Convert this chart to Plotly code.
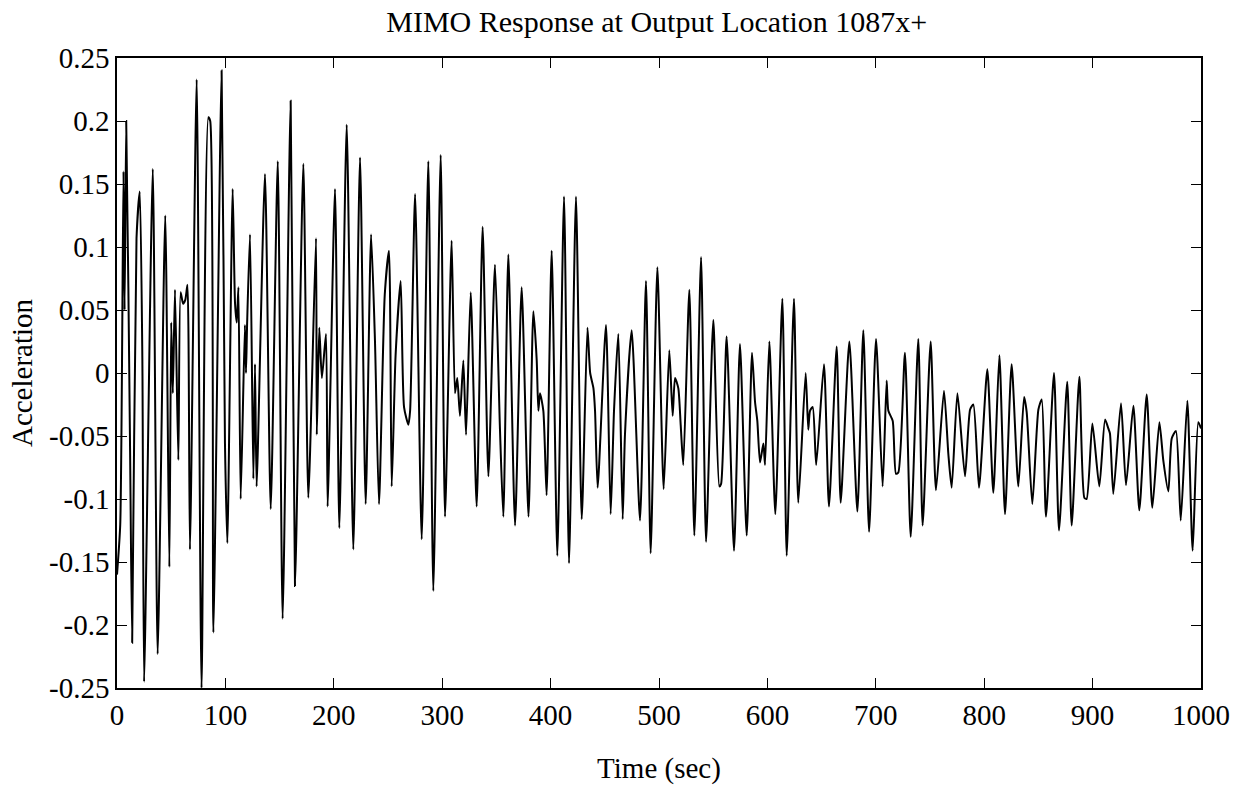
import plotly.graph_objects as go

time_sec = [
    0, 3, 6, 7, 8.5, 12, 14, 18, 21, 23.4, 25, 33, 37.5, 44.5, 48.3, 50, 51.5, 53.5, 56.6, 58.7,
    61, 63, 65, 67.3, 73.5, 78, 84.3, 86, 88.9, 96.5, 99.6, 101.8, 106.7, 108.9, 110.5, 112, 114.1,
    118, 119, 120, 122.7, 125.8, 127.3, 128.8, 136.5, 141.8, 148.3, 152.8, 160.2, 164.2, 171.9,
    176.5, 183.6, 184.3, 186.6, 189, 192.8, 194.3, 201.1, 205.1, 211.9, 218, 224.2, 229.4, 234.4,
    238, 241.7, 247, 250.9, 253.4, 257, 261.7, 264.8, 268.8, 270.4, 275, 281.1, 287.2, 291.8,
    298.6, 302.6, 308.7, 311.8, 313.9, 316.4, 319.5, 322, 326.3, 331.8, 337.3, 342.6, 348.7,
    353.3, 356.4, 361, 367.2, 373.3, 379.6, 384.1, 387.2, 388.7, 390.2, 393.3, 396.3, 401, 406.2,
    412.4, 417, 423.4, 428.7, 434, 436.5, 439.5, 441, 443.4, 451.1, 455.4, 458.5, 462.5, 466.5,
    468.6, 474.8, 482.5, 488, 492.3, 498.5, 504.3, 509.5, 512.6, 514.8, 517.8, 520, 522.4, 528,
    532.6, 538.8, 543.4, 550.1, 555.7, 557.3, 562.4, 569.2, 574.7, 580.9, 585.8, 588.6, 590.7,
    593.2, 596.3, 597.8, 601.8, 607.3, 613.8, 617.8, 624.5, 628.5, 635.3, 637.7, 639.3, 641.8,
    645, 652.2, 656.8, 663.9, 667.6, 675.6, 683, 688.5, 693.8, 700.2, 706.3, 710, 711.6, 715.6,
    718.6, 720.8, 726.9, 732.2, 739.2, 743.2, 750.6, 755.5, 762.9, 766.9, 770, 775.3, 782.3, 787,
    790, 795.2, 802.9, 808.4, 814, 819.2, 825.3, 831.5, 836.8, 839.2, 844.4, 850, 853.1, 857,
    864.4, 869, 876.6, 880.7, 887.8, 892.4, 894.5, 899.8, 906.2, 911.5, 914.5, 916, 919.1, 926.2,
    930.8, 937.6, 943.1, 949.9, 955.1, 961.6, 965.3, 969.9, 973, 976.9, 981.3, 987.4, 992.3,
    997.5, 1000,
]

acceleration = [
    -0.16, -0.12, 0.16, 0.05, 0.20, -0.056, -0.214, 0.107, 0.144, 0.01, -0.245, 0.162, -0.223,
    0.125, -0.154, 0.04, -0.016, 0.066, -0.069, 0.064, 0.055, 0.058, 0.07, -0.14, 0.233, -0.25,
    0.203, 0.20, -0.206, 0.24, -0.056, -0.135, 0.146, 0.055, 0.04, 0.068, -0.10, 0.038, 0.0,
    0.038, 0.11, -0.084, 0.007, -0.09, 0.158, -0.108, 0.168, -0.195, 0.216, -0.169, 0.166,
    -0.099, 0.107, -0.049, 0.036, -0.004, 0.031, -0.106, 0.146, -0.123, 0.197, -0.14, 0.171,
    -0.104, 0.11, 0.025, -0.104, 0.062, 0.097, -0.09, 0.014, 0.073, -0.027, -0.041, -0.03,
    0.142, -0.132, 0.168, -0.173, 0.173, -0.114, 0.105, -0.016, -0.004, -0.034, 0.01, -0.049,
    0.064, -0.106, 0.116, -0.082, 0.086, -0.045, -0.114, 0.094, -0.121, 0.068, -0.114, 0.049,
    0.01, -0.03, -0.016, -0.03, -0.097, 0.097, -0.145, 0.14, -0.151, 0.14, -0.116, 0.036, 0.0,
    -0.012, -0.03, -0.091, 0.038, -0.112, -0.03, 0.031, -0.116, -0.049, 0.034, -0.117, 0.073,
    -0.143, 0.084, -0.092, 0.018, -0.034, -0.004, -0.012, -0.041, -0.073, 0.066, -0.129, 0.092,
    -0.134, 0.042, -0.09, -0.088, 0.029, -0.141, 0.023, -0.129, 0.016, -0.023, -0.038, -0.071,
    -0.056, -0.073, 0.025, -0.112, 0.059, -0.145, 0.059, -0.103, 0.0, -0.045, -0.03, -0.027,
    -0.073, 0.007, -0.106, 0.021, -0.103, 0.025, -0.11, 0.034, -0.126, 0.027, -0.09, -0.006,
    -0.03, -0.038, -0.08, -0.079, 0.016, -0.13, 0.027, -0.121, 0.025, -0.093, -0.014, -0.064,
    -0.091, -0.016, -0.082, -0.029, -0.025, -0.091, 0.003, -0.095, 0.014, -0.112, 0.007, -0.09,
    -0.019, -0.031, -0.104, -0.029, -0.021, -0.114, 0.0, -0.125, -0.007, -0.121, -0.003, -0.099,
    -0.1, -0.04, -0.09, -0.037, -0.044, -0.048, -0.096, -0.024, -0.089, -0.026, -0.109, -0.017,
    -0.107, -0.039, -0.07, -0.094, -0.052, -0.046, -0.117, -0.022, -0.141, -0.039, -0.044,
]

x_ticks = [0, 100, 200, 300, 400, 500, 600, 700, 800, 900, 1000]
y_ticks = [0.25, 0.2, 0.15, 0.1, 0.05, 0, -0.05, -0.1, -0.15, -0.2, -0.25]
y_tick_labels = ["0.25", "0.2", "0.15", "0.1", "0.05", "0", "-0.05", "-0.1", "-0.15", "-0.2", "-0.25"]

font_family = "Liberation Serif, Times New Roman, serif"

fig = go.Figure()
fig.add_trace(go.Scatter(
    x=time_sec, y=acceleration, mode="lines",
    line=dict(color="black", width=2, shape="spline", smoothing=0.6),
    showlegend=False,
))

fig.update_layout(
    width=1251, height=793,
    margin=dict(l=117, r=50, t=58, b=105),
    paper_bgcolor="white", plot_bgcolor="white",
    font=dict(family=font_family, size=29, color="black"),
    title=dict(text="MIMO Response at Output Location 1087x+", x=0.525, xanchor="center",
               yref="container", y=1 - 21 / 793, yanchor="middle",
               font=dict(size=30, family=font_family)),
)
fig.update_xaxes(
    range=[0, 1000], tickvals=x_ticks, ticktext=[str(v) for v in x_ticks],
    showgrid=False, zeroline=False, showline=True, linecolor="black", linewidth=1.5,
    mirror="ticks", ticks="inside", ticklen=10, tickcolor="black", tickwidth=1.2,
    title=dict(text="Time (sec)", standoff=28, font=dict(size=29)), tickfont=dict(size=29),
)
fig.update_yaxes(
    range=[-0.25, 0.25], tickvals=y_ticks, ticktext=y_tick_labels,
    showgrid=False, zeroline=False, showline=True, linecolor="black", linewidth=1.5,
    mirror="ticks", ticks="inside", ticklen=10, tickcolor="black", tickwidth=1.2,
    title=dict(text="Acceleration", standoff=8, font=dict(size=29)), tickfont=dict(size=29),
)

fig.write_html("out.html")
